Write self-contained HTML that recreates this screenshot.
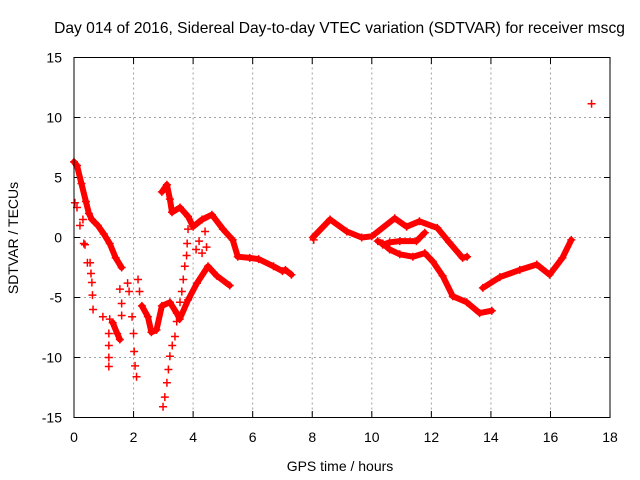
<!DOCTYPE html>
<html><head><meta charset="utf-8"><style>
body{margin:0;background:#fff;}
svg{display:block;font-family:"Liberation Sans",sans-serif;}
</style></head><body>
<svg id="chart" width="640" height="480" viewBox="0 0 640 480" xmlns="http://www.w3.org/2000/svg">
<text x="339.5" y="33" font-size="15.6" text-anchor="middle">Day 014 of 2016, Sidereal Day-to-day VTEC variation (SDTVAR) for receiver mscg</text>
<text x="340" y="471" font-size="14" text-anchor="middle">GPS time / hours</text>
<text transform="translate(18,238) rotate(-90)" font-size="14" text-anchor="middle">SDTVAR / TECUs</text>
<g id="grid"></g>
<g id="ticks"></g>
<g id="marks"></g>
<rect x="74" y="57.5" width="536" height="360" fill="none" stroke="#000" stroke-width="1"/>
</svg>
<script>
const xTicks = [0,2,4,6,8,10,12,14,16,18];
const yTicks = [15,10,5,0,-5,-10,-15];
// dense traces
const seg1 = [[0,6.3],[0.1,6.0],[0.25,4.5],[0.4,3.0],[0.5,2.0],[0.6,1.5],[0.8,1.0],[1.0,0.3],[1.2,-0.5],[1.4,-1.7],[1.6,-2.5]];
const seg2 = [[2.95,3.8],[3.12,4.4],[3.22,3.2],[3.29,2.1],[3.56,2.5],[3.83,1.75],[4.0,0.9],[4.3,1.5],[4.63,1.9],[5.0,0.7],[5.33,-0.2],[5.5,-1.6],[5.9,-1.7],[6.2,-1.8],[6.7,-2.4],[7.0,-2.8],[7.1,-2.7],[7.3,-3.1]];
const seg3 = [[1.3,-7.1],[1.45,-8.0],[1.54,-8.5]];
const seg4 = [[2.28,-5.7],[2.48,-6.6],[2.6,-7.9],[2.77,-7.7],[2.95,-5.7],[3.22,-5.4],[3.45,-6.3],[3.55,-6.8],[3.83,-5.2],[4.13,-3.8],[4.5,-2.4],[4.8,-3.2],[5.23,-4.0]];
const seg5 = [[8.02,0],[8.6,1.5],[9.16,0.5],[9.66,0],[10.0,0.1],[10.77,1.6],[11.17,0.9],[11.6,1.35],[12.2,0.8],[12.6,-0.4],[13.05,-1.7],[13.2,-1.6]];
const seg6 = [[10.2,-0.3],[10.37,-0.5],[10.6,-1.0],[10.94,-1.4],[11.38,-1.6],[11.78,-1.3],[12.05,-2.0],[12.38,-3.2],[12.72,-4.9],[13.19,-5.4],[13.62,-6.3],[14.03,-6.1]];
const seg7 = [[10.37,-0.6],[10.6,-0.4],[10.94,-0.3],[11.5,-0.3],[11.78,0.4]];
const seg8 = [[13.73,-4.2],[14.3,-3.3],[14.97,-2.7],[15.54,-2.25],[15.97,-3.1],[16.4,-1.7],[16.7,-0.2]];
// sparse scattered points
const sparse = [[0.03,2.9],[0.1,2.5],[0.2,1.0],[0.3,1.5],[0.33,-0.5],[0.37,-0.6],[0.45,-2.1],[0.54,-2.1],[0.57,-3.0],[0.6,-3.75],[0.62,-4.8],[0.64,-6.0],[0.97,-6.6],[1.2,-6.8],[1.17,-8.0],[1.17,-9.0],[1.17,-10.0],[1.17,-10.75],[1.54,-4.3],[1.6,-5.5],[1.6,-6.5],[1.8,-3.8],[1.85,-4.5],[1.95,-6.6],[2.0,-8.0],[2.02,-9.5],[2.05,-10.7],[2.1,-11.6],[2.15,-3.5],[2.2,-4.5],[2.99,-14.1],[3.05,-13.3],[3.12,-12.1],[3.17,-11.0],[3.22,-9.9],[3.3,-9.0],[3.39,-8.25],[3.45,-7.0],[3.56,-5.4],[3.62,-4.5],[3.67,-3.5],[3.72,-2.4],[3.78,-1.5],[3.83,0.7],[3.8,-0.5],[4.1,-1.0],[4.3,-1.3],[4.2,-0.3],[4.4,0.5],[4.45,-0.8],[8.05,-0.2],[17.38,11.15]];

const X = t => 74 + t*29.78;
const Y = v => 237.5 - v*12;
const NS = 'http://www.w3.org/2000/svg';
const grid = document.getElementById('grid');
const ticks = document.getElementById('ticks');
const marks = document.getElementById('marks');
function mk(tag, parent, attrs){const e=document.createElementNS(NS,tag);for(const k in attrs)e.setAttribute(k,attrs[k]);parent.appendChild(e);return e;}

xTicks.forEach(t=>{
  const x=X(t);
  if(t>0&&t<18){const g=mk('line',grid,{x1:x,y1:57.5,x2:x,y2:417.5,stroke:'#a0a0a0','stroke-dasharray':'2,3'});
  
  }
  mk('line',ticks,{x1:x,y1:417.5,x2:x,y2:411,stroke:'#000'});
  mk('line',ticks,{x1:x,y1:57.5,x2:x,y2:64,stroke:'#000'});
  const l=mk('text',ticks,{x:x,y:442,'font-size':14,'text-anchor':'middle'});
  l.textContent=t;
  
  
});
yTicks.forEach(v=>{
  const y=Y(v);
  if(v<15&&v>-15){const g=mk('line',grid,{x1:74,y1:y,x2:610,y2:y,stroke:'#a0a0a0','stroke-dasharray':'2,3'});
  
  }
  mk('line',ticks,{x1:74,y1:y,x2:80,y2:y,stroke:'#000'});
  mk('line',ticks,{x1:610,y1:y,x2:604,y2:y,stroke:'#000'});
  const l=mk('text',ticks,{x:62,y:y+5,'font-size':14,'text-anchor':'end'});
  l.textContent=v;
  
  
});
function plus(t,v){
  const x=X(t),y=Y(v);
  const p=mk('path',marks,{d:`M${x-4},${y}H${x+4}M${x},${y-4}V${y+4}`,stroke:'#f00','stroke-width':1.5,fill:'none'});
  
  
}
[seg1,seg2,seg3,seg4,seg5,seg6,seg7,seg8].forEach((s,i)=>{
  const d=s.map((p,j)=>(j?'L':'M')+X(p[0]).toFixed(1)+','+Y(p[1]).toFixed(1)).join('');
  const line=mk('path',marks,{d:d,stroke:'#f00','stroke-width':6,fill:'none','stroke-linejoin':'round','stroke-linecap':'round'});
  
  
  s.forEach(p=>plus(p[0],p[1]));
});
sparse.forEach(p=>plus(p[0],p[1]));
</script>
</body></html>
